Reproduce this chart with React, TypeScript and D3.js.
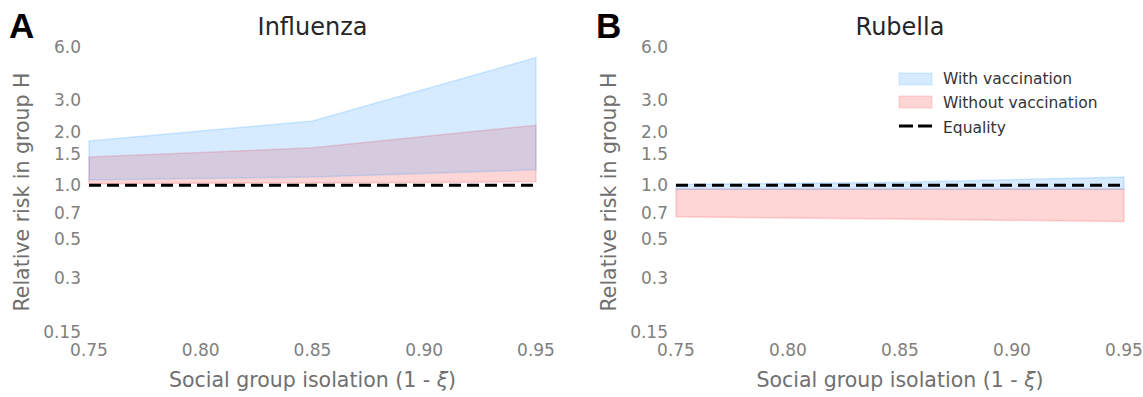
import * as React from "react";
import * as d3 from "d3";

const W = 1143;
const H = 397;

// social group isolation (1 - xi)
const isolation = [0.75, 0.85, 0.95];

// influenza bands
const fluWithLow = [1.07, 1.11, 1.22];
const fluWithHigh = [1.77, 2.29, 5.2];
const fluWithoutLow = [1.02, 1.03, 1.045];
const fluWithoutHigh = [1.44, 1.62, 2.17];

// rubella bands
const rubWithLow = [0.95, 0.95, 0.95];
const rubWithHigh = [1.01, 1.04, 1.11];
const rubWithoutLow = [0.665, 0.645, 0.625];
const rubWithoutHigh = [0.95, 0.95, 0.95];

const xTicks = [0.75, 0.8, 0.85, 0.9, 0.95];
const yTicks = [0.15, 0.3, 0.5, 0.7, 1.0, 1.5, 2.0, 3.0, 6.0];
const yTickLabels = ["0.15", "0.3", "0.5", "0.7", "1.0", "1.5", "2.0", "3.0", "6.0"];

const legendItems = ["With vaccination", "Without vaccination", "Equality"];

const BLUE = "#3399ff";
const RED = "#ff3333";
const FONT = "DejaVu Sans, sans-serif";

const y = d3.scaleLog().domain([0.15, 6]).range([332, 46.5]);

function Band({ x, low, high, color }) {
  const pts = isolation.map((v, i) => ({ v, lo: low[i], hi: high[i] }));
  const area = d3
    .area<any>()
    .x((d) => x(d.v))
    .y0((d) => y(d.lo))
    .y1((d) => y(d.hi));
  return (
    <path
      d={area(pts) + "Z"}
      fill={color}
      fillOpacity={0.2}
      stroke={color}
      strokeOpacity={0.2}
      strokeWidth={1.5}
    />
  );
}

function Panel({ x0, x1, letter, title, bands, legend }) {
  const x = d3.scaleLinear().domain([0.75, 0.95]).range([x0, x1]);
  const mid = (x0 + x1) / 2;
  return (
    <g>
      <text x={x0 - 80} y={38} fontFamily="Liberation Sans, Arial, sans-serif" fontWeight="bold" fontSize={35} fill="#000">
        {letter}
      </text>
      <text x={mid} y={35} textAnchor="middle" fontFamily={FONT} fontSize={24} fill="#262626">
        {title}
      </text>

      {bands.map((b, i) => (
        <Band key={i} x={x} low={b.low} high={b.high} color={b.color} />
      ))}

      <line
        x1={x(0.75)}
        x2={x(0.95)}
        y1={y(1)}
        y2={y(1)}
        stroke="#000"
        strokeWidth={3}
        strokeDasharray="12,6"
      />

      {yTicks.map((t, i) => (
        <text
          key={t}
          x={x0 - 8}
          y={y(t)}
          textAnchor="end"
          dominantBaseline="central"
          fontFamily={FONT}
          fontSize={17}
          fill="#808080"
        >
          {yTickLabels[i]}
        </text>
      ))}
      {xTicks.map((t) => (
        <text
          key={t}
          x={x(t)}
          y={350}
          textAnchor="middle"
          dominantBaseline="central"
          fontFamily={FONT}
          fontSize={17}
          fill="#808080"
        >
          {d3.format(".2f")(t)}
        </text>
      ))}

      <text
        transform={`translate(${x0 - 60},192) rotate(-90)`}
        textAnchor="middle"
        fontFamily={FONT}
        fontSize={20.5}
        fill="#707070"
      >
        Relative risk in group H
      </text>
      <text x={mid} y={387} textAnchor="middle" fontFamily={FONT} fontSize={20.5} fill="#707070">
        Social group isolation (1 - <tspan fontStyle="italic">ξ</tspan>)
      </text>

      {legend && (
        <g transform="translate(899,73)">
          <rect x={0} y={0} width={33} height={12} fill={BLUE} fillOpacity={0.2} stroke={BLUE} strokeOpacity={0.2} />
          <rect x={0} y={23} width={33} height={12} fill={RED} fillOpacity={0.2} stroke={RED} strokeOpacity={0.2} />
          <line x1={0} x2={33} y1={53} y2={53} stroke="#000" strokeWidth={3} strokeDasharray="14,5" />
          {legendItems.map((s, i) => (
            <text
              key={s}
              x={44}
              y={[6, 30, 55][i]}
              dominantBaseline="central"
              fontFamily={FONT}
              fontSize={15.5}
              fill="#333"
            >
              {s}
            </text>
          ))}
        </g>
      )}
    </g>
  );
}

export default function App() {
  const fluBands = [
    { low: fluWithoutLow, high: fluWithoutHigh, color: RED },
    { low: fluWithLow, high: fluWithHigh, color: BLUE },
  ];
  const rubBands = [
    { low: rubWithoutLow, high: rubWithoutHigh, color: RED },
    { low: rubWithLow, high: rubWithHigh, color: BLUE },
  ];
  return (
    <svg
      width={W}
      height={H}
      style={{ position: "absolute", left: 0, top: 0, background: "#fff" }}
    >
      <Panel x0={89} x1={536} letter="A" title="Influenza" bands={fluBands} legend={false} />
      <Panel x0={676} x1={1124} letter="B" title="Rubella" bands={rubBands} legend={true} />
    </svg>
  );
}
